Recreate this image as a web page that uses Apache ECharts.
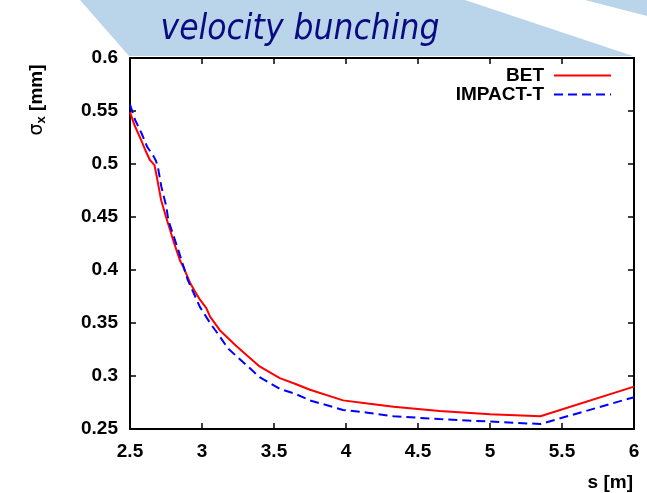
<!DOCTYPE html>
<html>
<head>
<meta charset="utf-8">
<script src="https://cdn.jsdelivr.net/npm/echarts@6/dist/echarts.min.js"></script>
<style>
  html, body { margin: 0; padding: 0; background: #fff; }
  #chart { width: 647px; height: 493px; }
</style>
</head>
<body>
<div id="chart"></div>
<script>
// s [m] and sigma_x [mm]
const sBet = [2.5, 2.53, 2.576, 2.61, 2.637, 2.67, 2.69, 2.716, 2.75, 2.778, 2.8, 2.847, 2.87, 2.917, 2.95, 2.986, 3.03, 3.056, 3.125, 3.24, 3.4, 3.54, 3.65, 3.75, 3.98, 4.15, 4.33, 4.65, 5.0, 5.35, 6.0]
const sigmaBet = [0.549, 0.537, 0.523, 0.512, 0.504, 0.499, 0.485, 0.466, 0.45, 0.438, 0.428, 0.409, 0.403, 0.388, 0.38, 0.372, 0.364, 0.356, 0.343, 0.328, 0.309, 0.298, 0.2925, 0.287, 0.277, 0.274, 0.271, 0.267, 0.264, 0.262, 0.29]

const sImpact = [2.5, 2.534, 2.58, 2.62, 2.665, 2.68, 2.694, 2.717, 2.752, 2.766, 2.835, 2.9, 2.986, 3.056, 3.125, 3.18, 3.4, 3.54, 3.65, 3.75, 3.98, 4.15, 4.33, 4.65, 5.0, 5.35, 6.0]
const sigmaImpact = [0.556, 0.542, 0.529, 0.516, 0.507, 0.503, 0.497, 0.479, 0.46, 0.447, 0.419, 0.391, 0.365, 0.35, 0.337, 0.326, 0.299, 0.288, 0.283, 0.277, 0.268, 0.2654, 0.262, 0.2594, 0.257, 0.2547, 0.28]

const seriesNames = ['BET', 'IMPACT-T']
const titleText = 'velocity bunching'

const pairs = (xs, ys) => xs.map((x, i) => [x, ys[i]])

const chart = echarts.init(document.getElementById('chart'))
const font = 'Liberation Sans'
const labelStyle = { fontFamily: font, fontWeight: 'bold', fontSize: 19, color: '#000' }
const frame = { show: true, lineStyle: { color: '#000', width: 2 } }
const tick = { show: true, inside: true, length: 6, lineStyle: { color: '#000', width: 1.5 } }

const legendBase = {
    orient: 'vertical',
    align: 'right',
    right: 35,
    padding: 0,
    itemWidth: 57,
    itemHeight: 14,
    itemStyle: { color: 'transparent', borderWidth: 0, opacity: 0 },
    textStyle: { fontFamily: font, fontWeight: 'bold', fontSize: 19, color: '#000', padding: [0, 5, 0, 0] }
}

chart.setOption({
    animation: false,
    grid: { left: 130, right: 13, top: 58, bottom: 64 },
    graphic: [
        {
            type: 'polygon', z: -1, silent: true,
            shape: { points: [[80, 0], [465, 0], [633, 56], [129, 56]] },
            style: { fill: '#bad4e9' }
        },
        {
            type: 'polygon', z: -1, silent: true,
            shape: { points: [[585, 0], [647, 0], [647, 16]] },
            style: { fill: '#bad4e9' }
        },
        {
            type: 'text', x: 300, y: 30,
            style: {
                text: titleText, align: 'center', verticalAlign: 'middle',
                fontFamily: 'DejaVu Sans Condensed, DejaVu Sans', fontStyle: 'italic',
                fontSize: 35, fill: '#0a0a82'
            }
        },
        {
            type: 'text', x: 37, y: 100, rotation: Math.PI / 2,
            style: {
                text: '{s|σ}{sub|x}{b| [mm]}',
                align: 'center', verticalAlign: 'middle',
                rich: {
                    s: { fontFamily: 'DejaVu Sans', fontSize: 19, fill: '#000' },
                    sub: { fontFamily: font, fontWeight: 'bold', fontSize: 13, fill: '#000', verticalAlign: 'bottom', padding: [8, 0, 0, 0] },
                    b: { fontFamily: font, fontWeight: 'bold', fontSize: 19, fill: '#000' }
                }
            }
        },
        {
            type: 'text', right: 14, top: 473,
            style: { text: 's [m]', fontFamily: font, fontWeight: 'bold', fontSize: 19, fill: '#000' }
        }
    ],
    legend: [
        Object.assign({ top: 66, data: [seriesNames[0]] }, legendBase),
        Object.assign({ top: 85, data: [seriesNames[1]] }, legendBase)
    ],
    xAxis: [
        {
            type: 'value', min: 2.5, max: 6, interval: 0.5,
            axisLine: frame, axisTick: tick, splitLine: { show: false },
            axisLabel: Object.assign({ margin: 13 }, labelStyle)
        },
        {
            type: 'value', position: 'top', min: 2.5, max: 6, interval: 0.5,
            axisLine: frame, axisTick: tick, splitLine: { show: false },
            axisLabel: { show: false }
        }
    ],
    yAxis: [
        {
            type: 'value', min: 0.25, max: 0.6, interval: 0.05,
            axisLine: frame, axisTick: tick, splitLine: { show: false },
            axisLabel: Object.assign({ margin: 12 }, labelStyle)
        },
        {
            type: 'value', position: 'right', min: 0.25, max: 0.6, interval: 0.05,
            axisLine: frame, axisTick: tick, splitLine: { show: false },
            axisLabel: { show: false }
        }
    ],
    series: [
        {
            name: seriesNames[0], type: 'line', symbol: 'none',
            data: pairs(sBet, sigmaBet),
            lineStyle: { color: '#ff0000', width: 2 },
            itemStyle: { color: '#ff0000' }
        },
        {
            name: seriesNames[1], type: 'line', symbol: 'none',
            data: pairs(sImpact, sigmaImpact),
            lineStyle: { color: '#0000ff', width: 2, type: [9, 5] },
            itemStyle: { color: '#0000ff' }
        }
    ]
})

window.addEventListener('resize', function() {
    chart.resize()
})
</script>
</body>
</html>
